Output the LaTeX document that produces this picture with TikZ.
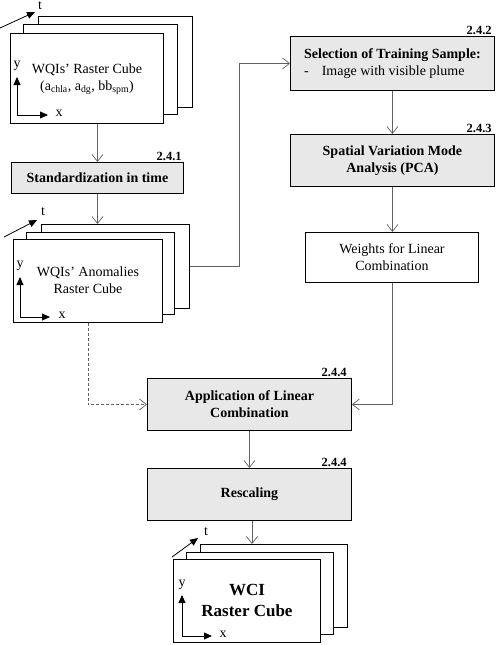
\documentclass[tikz,border=0pt]{standalone}
\usepackage{fontspec}
\setmainfont{Liberation Serif}
\usetikzlibrary{arrows.meta,calc}
\begin{document}
\begin{tikzpicture}[x=1pt,y=-1pt,
  box/.style={draw=black, line width=0.9pt, inner sep=0pt, anchor=north west, align=center, font=\fontsize{14}{17}\selectfont},
  graybox/.style={box, fill=black!9},
  sheet/.style={draw=black, line width=0.9pt, fill=white, inner sep=0pt, anchor=north west},
  conn/.style={draw=black!62, line width=0.7pt, -{Straight Barb[length=7pt,width=11pt]}},
  axis/.style={line width=0.8pt, -{Triangle[length=8pt,width=7pt]}},
  txt/.style={font=\fontsize{14}{17}\selectfont, inner sep=0pt, align=center},
  num/.style={font=\bfseries\fontsize{12.5}{14}\selectfont, inner sep=1pt, anchor=south east}
]
\useasboundingbox (0,0) rectangle (498,645);

% ---- stack 1
\node[sheet, minimum width=154pt, minimum height=91pt] (c1b) at (38,16) {};
\node[sheet, minimum width=154pt, minimum height=90pt] (c1m) at (23,24) {};
\node[sheet, minimum width=153pt, minimum height=90pt] (c1f) at (10,33) {};
\node[txt] (c1t) at (87,79) {WQIs’ Raster Cube\\(a\textsubscript{chla}, a\textsubscript{dg}, bb\textsubscript{spm})};
\coordinate (o1) at (17,115);
\coordinate (o1y) at (17,77);
\coordinate (o1x) at (48,115);
\draw[axis] (o1) -- (o1y);
\draw[axis] (o1) -- (o1x);
\node[txt] (l1y) at (17,66) {y};
\node[txt] (l1x) at (59,113) {x};
\coordinate (t1s) at (0,28);
\coordinate (t1e) at (35,12);
\draw[axis] (t1s) -- (t1e);
\node[txt] (l1t) at (40,6) {t};

% ---- standardization
\node[graybox, minimum width=172pt, minimum height=31pt] (std) at (11,162) {\bfseries Standardization in time};
\node[num] (n1) at ([xshift=-1pt]std.north east) {2.4.1};

% ---- stack 2
\node[sheet, minimum width=148pt, minimum height=84pt] (c2b) at (41,224) {};
\node[sheet, minimum width=148pt, minimum height=82pt] (c2m) at (26,232) {};
\node[sheet, minimum width=149pt, minimum height=83pt] (c2f) at (13,239) {};
\node[txt] (c2t) at (88,280) {WQIs’ Anomalies\\Raster Cube};
\coordinate (o2) at (20,317);
\coordinate (o2y) at (20,277);
\coordinate (o2x) at (50,317);
\draw[axis] (o2) -- (o2y);
\draw[axis] (o2) -- (o2x);
\node[txt] (l2y) at (20,266) {y};
\node[txt] (l2x) at (62,315) {x};
\coordinate (t2s) at (4,237);
\coordinate (t2e) at (37,220);
\draw[axis] (t2s) -- (t2e);
\node[txt] (l2t) at (43,212) {t};

% ---- right column
\node[graybox, minimum width=204pt, minimum height=54pt, align=left] (sel) at (290,36) {\bfseries Selection of Training Sample:\\-\hspace{13pt}Image with visible plume};
\node[num] (n2) at ([xshift=-2pt]sel.north east) {2.4.2};
\node[graybox, minimum width=204pt, minimum height=52pt] (pca) at (290,134) {\bfseries Spatial Variation Mode\\\bfseries Analysis (PCA)};
\node[num] (n3) at ([xshift=-2pt]pca.north east) {2.4.3};
\node[box, fill=white, minimum width=173pt, minimum height=50pt] (wts) at (305,232) {Weights for Linear\\Combination};

% ---- application / rescaling
\node[graybox, minimum width=204pt, minimum height=52pt] (app) at (147,378) {\bfseries Application of Linear\\\bfseries Combination};
\node[num] (n4) at ([xshift=-4pt]app.north east) {2.4.4};
\node[graybox, minimum width=204pt, minimum height=52pt] (res) at (147,468) {\bfseries Rescaling};
\node[num] (n5) at ([xshift=-4pt]res.north east) {2.4.4};

% ---- stack 3
\node[sheet, minimum width=147pt, minimum height=83pt] (c3b) at (200,544) {};
\node[sheet, minimum width=147pt, minimum height=82pt] (c3m) at (186,552) {};
\node[sheet, minimum width=147pt, minimum height=83pt] (c3f) at (173,559) {};
\node[txt, font=\bfseries\fontsize{17}{21}\selectfont] (c3t) at (247,600) {WCI\\Raster Cube};
\coordinate (o3) at (182,636);
\coordinate (o3y) at (182,595);
\coordinate (o3x) at (212,636);
\draw[axis] (o3) -- (o3y);
\draw[axis] (o3) -- (o3x);
\node[txt] (l3y) at (182,585) {y};
\node[txt] (l3x) at (223,634) {x};
\coordinate (t3s) at (172,557);
\coordinate (t3e) at (198,538);
\draw[axis] (t3s) -- (t3e);
\node[txt] (l3t) at (206,532) {t};

% ---- connectors
\draw[conn] (c1f.south -| std.north) -- (std.north);
\draw[conn] (std.south) -- (std.south |- c2b.north);
\coordinate (k1) at (239,0);
\draw[conn] (c2b.east) -- (c2b.east -| k1) -- (k1 |- sel.west) -- (sel.west);
\coordinate (k2) at (88,0);
\draw[conn, dash pattern=on 3pt off 2pt] (c2f.south -| k2) -- (k2 |- app.west) -- (app.west);
\draw[conn] (sel.south) -- (pca.north);
\draw[conn] (pca.south) -- (pca.south |- wts.north);
\draw[conn] (wts.south) |- (app.east);
\draw[conn] (app.south) -- (res.north);
\coordinate (k3) at (252,0);
\draw[conn] (res.south -| k3) -- (k3 |- c3b.north);
\end{tikzpicture}
\end{document}
